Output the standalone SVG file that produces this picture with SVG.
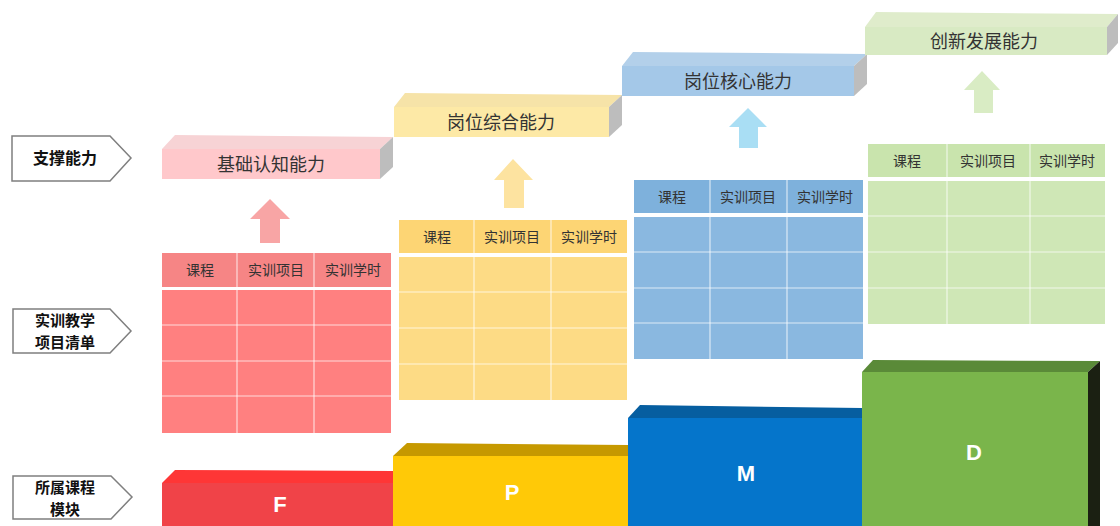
<svg xmlns="http://www.w3.org/2000/svg" width="1120" height="526" viewBox="0 0 1120 526">
<style>
.lbl{fill:#fff;stroke:#7f7f7f;stroke-width:1.5}
.lt{font-family:"Noto Sans CJK SC","Noto Sans",sans-serif;font-weight:bold;font-size:16px;fill:#111;text-anchor:middle}
.lt2{font-family:"Noto Sans CJK SC","Noto Sans",sans-serif;font-weight:bold;font-size:15px;fill:#111;text-anchor:middle}
.bt{font-family:"Noto Sans CJK SC","Noto Sans",sans-serif;font-size:18px;fill:#333;text-anchor:middle}
.ht{font-family:"Noto Sans CJK SC","Noto Sans",sans-serif;font-size:14px;fill:#333;text-anchor:middle}
.mt{font-family:"Liberation Sans",Arial,sans-serif;font-weight:bold;font-size:22px;fill:#fff;text-anchor:middle}
.side{fill:#bdbdbd}
.grid{stroke:#fff;stroke-opacity:0.7;stroke-width:1.2}
</style>
<g id="label-support">
<polygon class="lbl" points="12,136 110,136 131,158 110,181 12,181"/>
<text class="lt" x="65" y="164">支撑能力</text>
</g>
<g id="label-list">
<polygon class="lbl" points="13,309 110,309 131,331 110,353 13,353"/>
<text class="lt2" x="65" y="326">实训教学</text>
<text class="lt2" x="65" y="348">项目清单</text>
</g>
<g id="label-module">
<polygon class="lbl" points="13,476 111,476 132,497 111,519 13,519"/>
<text class="lt2" x="65" y="493">所属课程</text>
<text class="lt2" x="65" y="515">模块</text>
</g>

<g id="cap-basic">
<polygon points="162,149 175,135 393,137 380,149" fill="#f7d3d5"/>
<polygon class="side" points="380,149 393,137 393,167 380,179"/>
<rect x="162" y="149" width="218" height="30" fill="#ffc8cb"/>
<text class="bt" x="271" y="171">基础认知能力</text>
</g>
<g id="cap-comp">
<polygon points="394,107 405,93 622,95 609,107" fill="#f6e3a8"/>
<polygon class="side" points="609,107 622,95 622,125 609,137"/>
<rect x="394" y="107" width="215" height="30" fill="#fde9a6"/>
<text class="bt" x="501" y="129">岗位综合能力</text>
</g>
<g id="cap-core">
<polygon points="622,66 633,52 867,54 854,66" fill="#b3d0ea"/>
<polygon class="side" points="854,66 867,54 867,84 854,96"/>
<rect x="622" y="66" width="232" height="30" fill="#a4c8e8"/>
<text class="bt" x="738" y="88">岗位核心能力</text>
</g>
<g id="cap-innov">
<polygon points="865,27 876,12 1118,14 1107,27" fill="#dfeccb"/>
<polygon class="side" points="1107,27 1118,14 1118,43 1107,55"/>
<rect x="865" y="27" width="242" height="28" fill="#d8eac3"/>
<text class="bt" x="984" y="48">创新发展能力</text>
</g>

<g id="connectors">
<polygon points="270,199 290,219 280,219 280,243 260,243 260,219 250,219" fill="#f8a5a5"/>
<polygon points="513,159 533,180 524,180 524,208 504,208 504,180 494,180" fill="#fde3a0"/>
<polygon points="748,108 767,127 758,127 758,148 739,148 739,127 729,127" fill="#a9def4"/>
<polygon points="982,71 1000,90 993,90 993,113 974,113 974,90 964,90" fill="#d9ecc4"/>
</g>

<g id="table-f">
<rect x="162" y="253" width="229" height="34" fill="#f68585"/>
<rect x="162" y="290" width="229" height="143" fill="#ff8080"/>
<g class="grid">
<line x1="237" y1="253" x2="237" y2="433"/><line x1="314" y1="253" x2="314" y2="433"/>
<line x1="162" y1="325" x2="391" y2="325"/><line x1="162" y1="361" x2="391" y2="361"/><line x1="162" y1="396" x2="391" y2="396"/>
</g>
<text class="ht" x="200" y="275">课程</text><text class="ht" x="276" y="275">实训项目</text><text class="ht" x="353" y="275">实训学时</text>
</g>
<g id="table-p">
<rect x="399" y="220" width="228" height="33" fill="#fdd574"/>
<rect x="399" y="257" width="228" height="143" fill="#fddb85"/>
<g class="grid">
<line x1="474" y1="220" x2="474" y2="400"/><line x1="551" y1="220" x2="551" y2="400"/>
<line x1="399" y1="292" x2="627" y2="292"/><line x1="399" y1="328" x2="627" y2="328"/><line x1="399" y1="364" x2="627" y2="364"/>
</g>
<text class="ht" x="437" y="242">课程</text><text class="ht" x="512" y="242">实训项目</text><text class="ht" x="589" y="242">实训学时</text>
</g>
<g id="table-m">
<rect x="634" y="180" width="229" height="33" fill="#7eb1dc"/>
<rect x="634" y="217" width="229" height="142" fill="#8ab8e0"/>
<g class="grid">
<line x1="710" y1="180" x2="710" y2="359"/><line x1="787" y1="180" x2="787" y2="359"/>
<line x1="634" y1="252" x2="863" y2="252"/><line x1="634" y1="288" x2="863" y2="288"/><line x1="634" y1="323" x2="863" y2="323"/>
</g>
<text class="ht" x="672" y="202">课程</text><text class="ht" x="748" y="202">实训项目</text><text class="ht" x="825" y="202">实训学时</text>
</g>
<g id="table-d">
<rect x="868" y="144" width="237" height="33" fill="#c9e4ad"/>
<rect x="868" y="181" width="237" height="143" fill="#cfe7b6"/>
<g class="grid">
<line x1="947" y1="144" x2="947" y2="324"/><line x1="1030" y1="144" x2="1030" y2="324"/>
<line x1="868" y1="216" x2="1105" y2="216"/><line x1="868" y1="252" x2="1105" y2="252"/><line x1="868" y1="288" x2="1105" y2="288"/>
</g>
<text class="ht" x="907" y="166">课程</text><text class="ht" x="988" y="166">实训项目</text><text class="ht" x="1067" y="166">实训学时</text>
</g>

<g id="mod-f">
<polygon points="162,483 175,470 393,471 393,483" fill="#fe3636"/>
<rect x="162" y="483" width="231" height="43" fill="#f04348"/>
<text class="mt" x="280" y="512">F</text>
</g>
<g id="mod-p">
<polygon points="393,456 407,443 628,445 628,456" fill="#c69900"/>
<rect x="393" y="456" width="235" height="70" fill="#ffc907"/>
<text class="mt" x="512" y="500">P</text>
</g>
<g id="mod-m">
<polygon points="628,418 640,405 862,408 862,418" fill="#065ea0"/>
<rect x="628" y="418" width="234" height="108" fill="#0575cb"/>
<text class="mt" x="746" y="481">M</text>
</g>
<g id="mod-d">
<polygon points="862,372 873,360 1100,361 1088,372" fill="#5a8a38"/>
<polygon points="1088,372 1100,361 1100,526 1088,526" fill="#1b2012"/>
<rect x="862" y="372" width="226" height="154" fill="#7ab54b"/>
<text class="mt" x="974" y="460">D</text>
</g>
</svg>
